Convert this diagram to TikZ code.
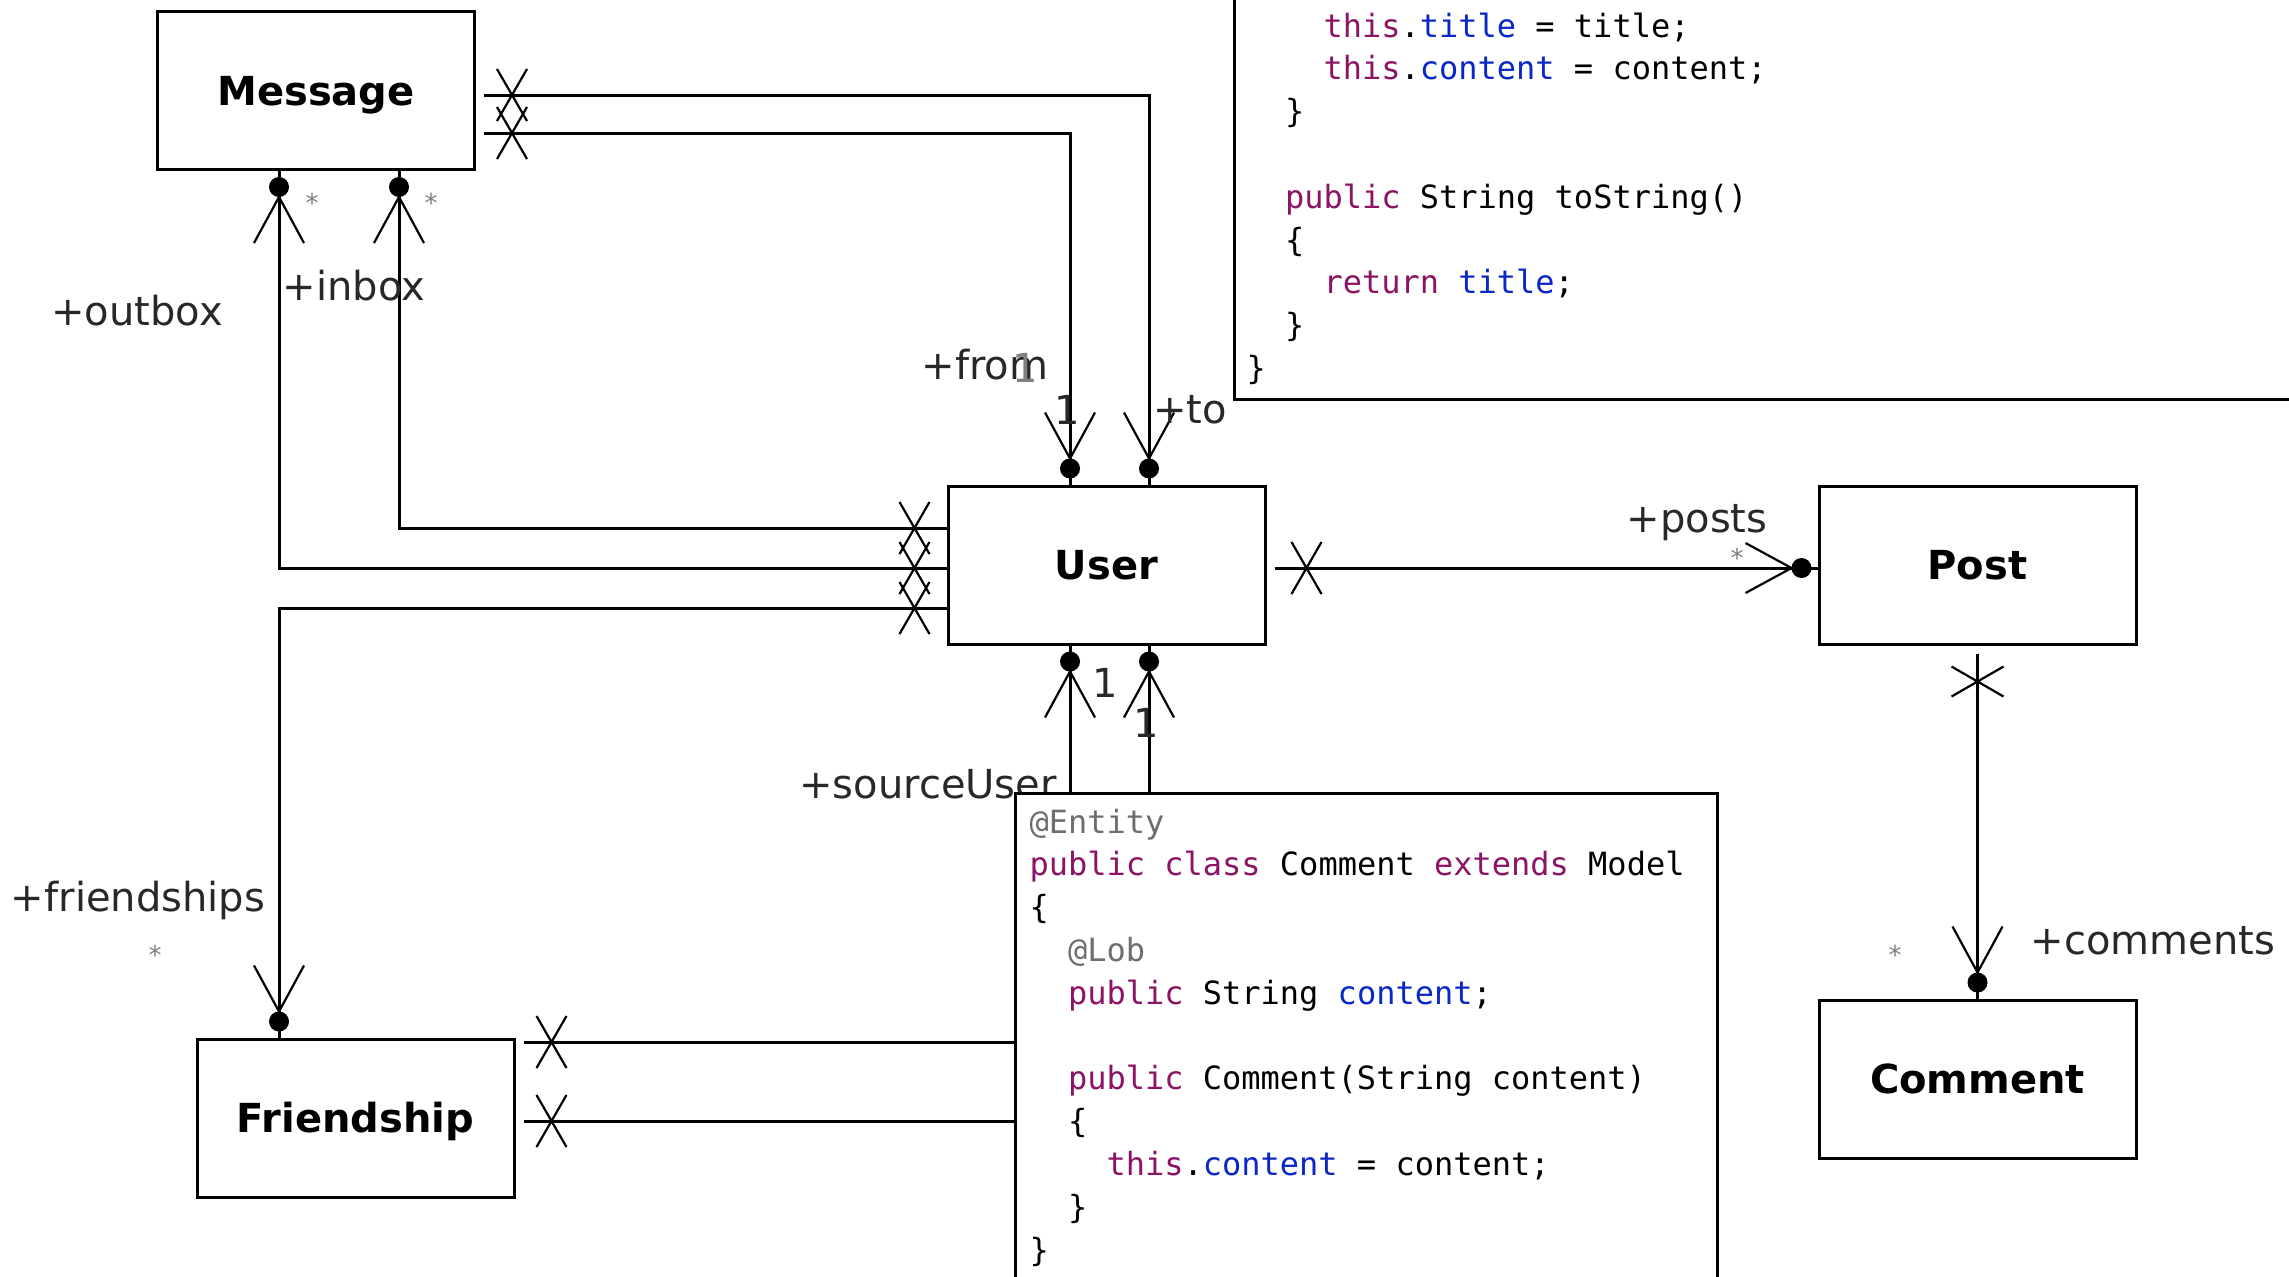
\documentclass[tikz,border=0pt]{standalone}
\usepackage{fontspec}
\setmainfont{DejaVu Sans}
\setmonofont{DejaVu Sans Mono}
\usepackage{xcolor}

\definecolor{kwcol}{RGB}{140,20,100}
\definecolor{fldcol}{RGB}{10,40,200}
\definecolor{anncol}{RGB}{110,110,110}
\definecolor{lblcol}{RGB}{40,40,40}
\newcommand{\kw}[1]{\textcolor{kwcol}{#1}}
\newcommand{\fld}[1]{\textcolor{fldcol}{#1}}
\newcommand{\ann}[1]{\textcolor{anncol}{#1}}

\begin{document}
\begin{tikzpicture}[x=0.5pt,y=-0.5pt,line width=1.5pt,
  cls/.style={rectangle,draw,minimum width=158.5pt,minimum height=79pt,text height=14.6pt,text depth=0pt,font=\bfseries\fontsize{20}{24}\selectfont},
  role/.style={text=lblcol,inner sep=0pt,font=\fontsize{20}{24}\selectfont},
  star/.style={text=gray,inner sep=0pt,font=\fontsize{13}{15}\selectfont},
  code/.style={anchor=base west,inner sep=0pt,font=\ttfamily\fontsize{16}{19}\selectfont},
  nonav/.pic={\draw[line width=1.1pt] (-7.5pt,-13pt) -- (7.5pt,13pt) (-7.5pt,13pt) -- (7.5pt,-13pt);},
  navend/.pic={\fill (-8pt,0pt) circle (5pt);
    \draw[line width=1.1pt] (-36pt,12.5pt) -- (-13pt,0pt) -- (-36pt,-12.5pt);}]

\path[use as bounding box] (0,0) rectangle (2289,1276);
\clip (0,0) rectangle (2289,1276);

\node(msg) at (316,90.5)[cls]{Message};
\node(usr) at (1106.5,565)[cls]{User};
\node(post) at (1977.5,565)[cls]{Post};
\node(cmt) at (1977.5,1079)[cls]{Comment};
\node(frd) at (355.5,1118)[cls]{Friendship};

% Message -> User
\draw (msg.east |- 0,95) ++(4pt,0) -| (1149,0 |- usr.north);
\draw (msg.east |- 0,133) ++(4pt,0) -| (1070,0 |- usr.north);
\pic[xshift=18pt] at (msg.east |- 0,95) {nonav};
\pic[xshift=18pt] at (msg.east |- 0,133) {nonav};
\pic[rotate=-90] at (1149,0 |- usr.north) {navend};
\pic[rotate=-90] at (1070,0 |- usr.north) {navend};

% User -> Message, Friendship
\draw (usr.west |- 0,528) -| (399,0 |- msg.south);
\draw (usr.west |- 0,568) -| (279,0 |- msg.south);
\draw (usr.west |- 0,608) -| (279,0 |- frd.north);
\pic[xshift=-16pt] at (usr.west |- 0,528) {nonav};
\pic[xshift=-16pt] at (usr.west |- 0,568) {nonav};
\pic[xshift=-16pt] at (usr.west |- 0,608) {nonav};
\pic[rotate=90] at (399,0 |- msg.south) {navend};
\pic[rotate=90] at (279,0 |- msg.south) {navend};
\pic[rotate=-90] at (279,0 |- frd.north) {navend};

% User -> Post -> Comment
\draw (usr.east |- 0,568) ++(4pt,0) -- (post.west |- 0,568);
\pic[xshift=20pt] at (usr.east |- 0,568) {nonav};
\pic at (post.west |- 0,568) {navend};
\draw (post.south) ++(0,-4pt) -- (cmt.north);
\pic[yshift=-18pt,rotate=90] at (post.south) {nonav};
\pic[rotate=-90] at (cmt.north) {navend};

% Friendship -> User
\draw (frd.east |- 0,1042) ++(4pt,0) -| (1070,0 |- usr.south);
\draw (frd.east |- 0,1121) ++(4pt,0) -| (1149,0 |- usr.south);
\pic[xshift=18pt] at (frd.east |- 0,1042) {nonav};
\pic[xshift=18pt] at (frd.east |- 0,1121) {nonav};
\pic[rotate=90] at (1070,0 |- usr.south) {navend};
\pic[rotate=90] at (1149,0 |- usr.south) {navend};

\node(outbox) at (137,311)[role]{+outbox};
\node(inbox) at (354,286)[role]{+inbox};
\node(st1) at (312,203)[star]{*};
\node(st2) at (431,203)[star]{*};
\node(from) at (985,365)[role]{+from};
\node(m1) at (1025,368)[role,text=gray]{1};
\node(m2) at (1067,410)[role]{1};
\node(to) at (1190,410)[role]{+to};
\node(posts) at (1697,523)[role]{+posts};
\node(st3) at (1737,558)[star]{*};
\node(friends) at (138,900)[role]{+friendships};
\node(st4) at (155,955)[star]{*};
\node(m3) at (1105,683)[role]{1};
\node(m4) at (1146,723)[role]{1};
\node(src) at (928,784)[role]{+sourceUser};
\node(comments) at (2153,941)[role]{+comments};
\node(st5) at (1895,955)[star]{*};

% code boxes
\draw[fill=white] (1234,-30) rectangle (2320,399);
\foreach \k/\d/\ln in {-1/1/{\{},0/2/{\kw{this}.\fld{title} = title;},
    1/2/{\kw{this}.\fld{content} = content;},2/1/{\}},
    4/1/{\kw{public} String toString()},5/1/{\{},6/2/{\kw{return} \fld{title};},
    7/1/{\}},8/0/{\}}}
  \node(pc\k) at (1245+38.5*\d,37+42.8*\k)[code]{\ln};

\draw[fill=white] (1015,793) rectangle (1717,1300);
\foreach \k/\d/\ln in {0/0/{\ann{@Entity}},1/0/{\kw{public} \kw{class} Comment \kw{extends} Model},
    2/0/{\{},3/1/{\ann{@Lob}},4/1/{\kw{public} String \fld{content};},
    6/1/{\kw{public} Comment(String content)},7/1/{\{},
    8/2/{\kw{this}.\fld{content} = content;},9/1/{\}},10/0/{\}}}
  \node(cc\k) at (1028+38.5*\d,833+42.8*\k)[code]{\ln};

\end{tikzpicture}
\end{document}
